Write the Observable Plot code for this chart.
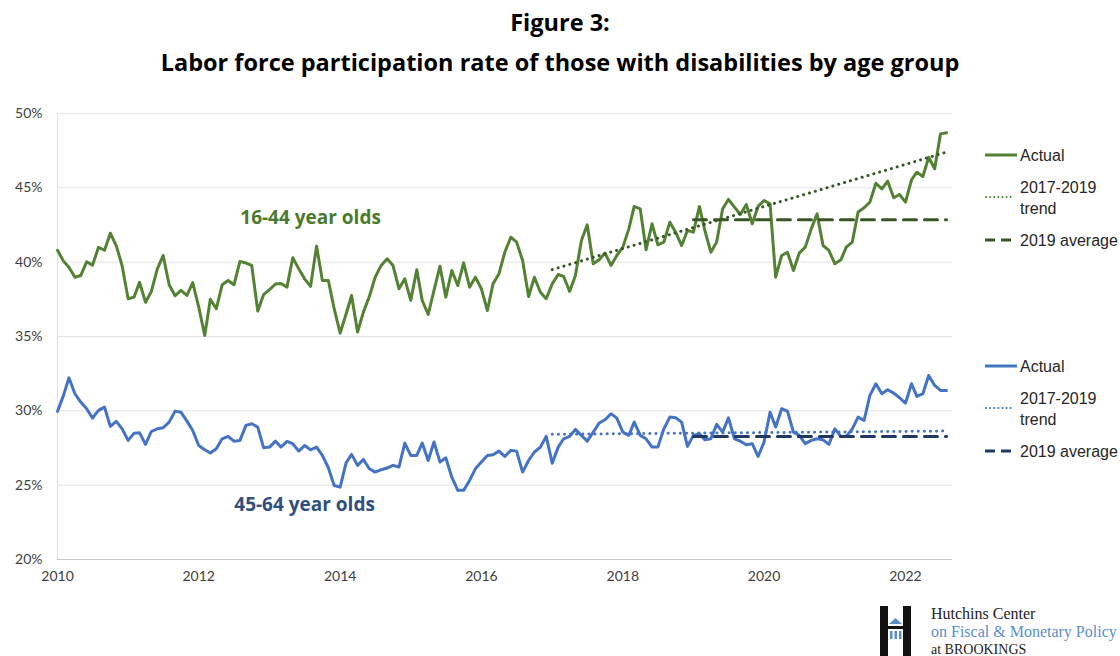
<!DOCTYPE html>
<html><head><meta charset="utf-8">
<script src="https://cdn.jsdelivr.net/npm/d3@7"></script>
<script src="https://cdn.jsdelivr.net/npm/@observablehq/plot@0.6"></script>
<style>
html,body{margin:0;padding:0;background:#fff;}
body{width:1120px;height:656px;position:relative;overflow:hidden;font-family:Lato,"Open Sans",sans-serif;}
#title{position:absolute;left:0;top:2px;width:1120px;text-align:center;font-family:"Open Sans",sans-serif;font-weight:700;font-size:23.5px;line-height:40px;color:#000;}
#chart{position:absolute;left:0;top:90px;}
#overlay{position:absolute;left:0;top:0;}
</style></head>
<body>
<div id="title">Figure 3:<br>Labor force participation rate of those with disabilities by age group</div>
<div id="chart"></div>
<svg id="overlay" width="1120" height="656"></svg>
<script>
// ---- data (monthly, Jan 2010 – Aug 2022), percent ----
const startMonth = "2010-01-01";
const age1644 = [
40.8,40.07,39.66,38.99,39.1,40.03,39.8,41.0,40.8,41.95,
41.1,39.76,37.54,37.65,38.64,37.3,38.03,39.55,40.45,38.48,
37.74,38.1,37.76,38.62,36.98,35.07,37.5,36.87,38.48,38.77,
38.48,40.05,39.94,39.78,36.71,37.81,38.15,38.53,38.57,38.32,
40.3,39.55,38.88,38.37,41.08,38.77,38.77,36.87,35.23,36.53,
37.76,35.3,36.64,
37.69,38.99,39.78,40.23,39.78,38.21,38.88,37.43,39.49,37.43,
36.48,38.10,39.73,37.65,39.44,38.43,39.96,38.32,38.99,38.21,
36.75,38.54,39.22,40.67,41.68,41.35,40.11,37.69,38.99,37.98,
37.54,38.54,39.17,39.04,38.03,39.11,41.46,42.51,39.89,40.16,
40.61,39.78,40.45,41.01,42.24,43.75,43.59,40.83,42.58,41.17,
41.35,42.69,
42.02,41.12,42.13,42.02,43.75,42.13,40.67,41.35,43.59,44.22,
43.70,43.21,43.88,42.58,43.75,44.15,43.92,38.99,40.45,40.67,
39.44,40.61,41.01,42.24,43.25,41.12,40.79,39.89,40.16,41.01,
41.35,43.38,43.66,44.04,45.31,44.93,45.45,44.33,44.55,44.04,
45.54,46.05,45.76,47.06,46.28,48.63,48.70
];
const age4564 = [
29.96,31.04,32.22,31.15,30.59,30.14,29.51,30.03,30.25,28.95,
29.29,28.79,28.01,28.50,28.52,27.74,28.61,28.79,28.86,29.24,
29.98,29.91,29.31,28.68,27.67,27.38,27.16,27.45,28.12,28.28,
27.96,28.01,29.02,29.13,28.91,27.52,27.56,27.96,27.56,27.94,
27.79,27.29,27.67,27.38,27.56,27.00,26.17,24.98,24.87,26.51,
27.07,26.33,26.73,
26.10,25.88,26.04,26.15,26.33,26.22,27.83,27.00,27.00,27.83,
26.66,27.90,26.55,26.84,25.54,24.65,24.65,25.32,26.10,26.55,
27.00,27.05,27.29,26.93,27.34,27.29,25.88,26.66,27.23,27.56,
28.28,26.48,27.56,28.12,28.28,28.75,28.35,27.96,28.57,29.18,
29.40,29.80,29.51,28.57,28.35,29.24,28.35,28.12,27.56,27.56,
28.79,29.58,
29.53,29.24,27.61,28.35,28.46,28.05,28.12,29.09,28.57,29.53,
28.12,27.96,27.72,27.79,26.93,27.90,29.91,28.91,30.14,29.98,
28.57,28.35,27.79,28.01,28.12,28.05,27.74,28.79,28.28,28.28,
28.79,29.58,29.35,31.04,31.82,31.15,31.42,31.19,30.88,30.52,
31.82,30.97,31.15,32.38,31.71,31.37,31.37
];
// 2017-2019 trend lines (start Jan 2017, end Aug 2022)
const trendDates = ["2017-01-01", "2022-08-01"];
const trend1644 = [39.5, 47.4];
const trend4564 = [28.42, 28.64];
// 2019 averages (drawn Jan 2019 – Aug 2022)
const avgDates = ["2019-01-01", "2022-08-01"];
const avg1644 = 42.85;
const avg4564 = 28.28;
const yTicks = [20, 25, 30, 35, 40, 45, 50];
const xTickYears = [2010, 2012, 2014, 2016, 2018, 2020, 2022];
const groupLabels = ["16-44 year olds", "45-64 year olds"];
const groupLabelDates = ["2013-08-01", "2013-07-01"];
const groupLabelValues = [43.0, 23.7];
const legendLabels = ["Actual", "2017-2019", "trend", "2019 average"];

// ---- build tables ----
const start = new Date(startMonth);
const dates = d3.utcMonth.range(start, d3.utcMonth.offset(start, age1644.length));
const g = age1644.map((v, i) => ({date: dates[i], value: v}));
const b = age4564.map((v, i) => ({date: dates[i], value: v}));
const tG = trendDates.map((d, i) => ({date: new Date(d), value: trend1644[i]}));
const tB = trendDates.map((d, i) => ({date: new Date(d), value: trend4564[i]}));
const aG = avgDates.map(d => ({date: new Date(d), value: avg1644}));
const aB = avgDates.map(d => ({date: new Date(d), value: avg4564}));
const labels = groupLabels.map((t, i) => ({text: t, date: new Date(groupLabelDates[i]), value: groupLabelValues[i]}));

const GREEN = "#548235", DKGREEN = "#375623", BLUE = "#4472c4", NAVY = "#203864";
const xt = xTickYears.map(y => new Date(Date.UTC(y, 0, 1)));

const chart = Plot.plot({
  width: 1120, height: 520,
  marginLeft: 57, marginRight: 168, marginTop: 23, marginBottom: 51,
  style: {fontFamily: "Lato, sans-serif", fontSize: "14px", color: "#595959", background: "transparent", overflow: "visible"},
  x: {type: "utc", domain: [start, new Date("2022-09-01")], label: null},
  y: {domain: [20, 50], label: null},
  marks: [
    Plot.gridY(yTicks.slice(1), {stroke: "#e3e3e3", strokeOpacity: 1}),
    Plot.ruleY([20], {stroke: "#c9c9c9"}),
    Plot.ruleX([start], {stroke: "#e0e0e0"}),
    Plot.axisX({ticks: xt, tickFormat: d => String(d.getUTCFullYear()), tickSize: 0, tickPadding: 12, fill: "#404040", label: null}),
    Plot.axisY({ticks: yTicks, tickFormat: d => d + "%", tickSize: 0, tickPadding: 15, fill: "#404040", label: null}),
    Plot.line(g, {x: "date", y: "value", stroke: GREEN, strokeWidth: 3}),
    Plot.line(b, {x: "date", y: "value", stroke: BLUE, strokeWidth: 3}),
    Plot.line(tG, {x: "date", y: "value", stroke: DKGREEN, strokeWidth: 3, strokeDasharray: "0.1,6", strokeLinecap: "round"}),
    Plot.line(tB, {x: "date", y: "value", stroke: BLUE, strokeWidth: 3, strokeDasharray: "0.1,6", strokeLinecap: "round"}),
    Plot.line(aG, {x: "date", y: "value", stroke: DKGREEN, strokeWidth: 3, strokeDasharray: "13,8"}),
    Plot.line(aB, {x: "date", y: "value", stroke: NAVY, strokeWidth: 3, strokeDasharray: "13,8"}),
    Plot.text(labels, {x: "date", y: "value", text: "text", fill: (d, i) => i === 0 ? "#4a7a2c" : "#2f4f80",
      fontSize: 19, fontWeight: 700, fontFamily: "'Open Sans', sans-serif"})
  ]
});
document.getElementById("chart").appendChild(chart);

// ---- legends & logo overlay ----
const ov = d3.select("#overlay");
function legend(y0, actualColor, trendColor, avgColor) {
  const gg = ov.append("g").attr("font-family", "'Liberation Sans', Arial, sans-serif").attr("font-size", 16).attr("fill", "#262626");
  gg.append("line").attr("x1", 985).attr("x2", 1017).attr("y1", y0).attr("y2", y0).attr("stroke", actualColor).attr("stroke-width", 3);
  gg.append("text").attr("x", 1020).attr("y", y0).attr("dy", "0.35em").text(legendLabels[0]);
  gg.append("line").attr("x1", 986).attr("x2", 1014).attr("y1", y0 + 42).attr("y2", y0 + 42).attr("stroke", trendColor).attr("stroke-width", 2)
    .attr("stroke-dasharray", "0.1,4").attr("stroke-linecap", "round");
  gg.append("text").attr("x", 1020).attr("y", y0 + 32).attr("dy", "0.35em").text(legendLabels[1]);
  gg.append("text").attr("x", 1020).attr("y", y0 + 53).attr("dy", "0.35em").text(legendLabels[2]);
  gg.append("line").attr("x1", 985).attr("x2", 1015).attr("y1", y0 + 85).attr("y2", y0 + 85).attr("stroke", avgColor).attr("stroke-width", 3)
    .attr("stroke-dasharray", "10,6");
  gg.append("text").attr("x", 1020).attr("y", y0 + 85).attr("dy", "0.35em").text(legendLabels[3]);
}
legend(155, GREEN, GREEN, DKGREEN);
legend(366, BLUE, BLUE, NAVY);

// logo
const lg = ov.append("g");
lg.append("rect").attr("x", 880).attr("y", 606).attr("width", 8).attr("height", 50).attr("fill", "#111");
lg.append("rect").attr("x", 903).attr("y", 606).attr("width", 8).attr("height", 50).attr("fill", "#111");
lg.append("path").attr("d", "M889,624 L895.5,618 L902,624 Z").attr("fill", "#5b8ec9");
lg.append("rect").attr("x", 888).attr("y", 626).attr("width", 15).attr("height", 3).attr("fill", "#111");
[890, 894.5, 899].forEach(x => lg.append("rect").attr("x", x).attr("y", 631).attr("width", 2.5).attr("height", 8).attr("fill", "#5b8ec9"));
const lt = lg.append("g").attr("font-family", "'Liberation Serif', 'DejaVu Serif', serif").attr("font-size", 16);
lt.append("text").attr("x", 931).attr("y", 619).attr("fill", "#222").text("Hutchins Center");
lt.append("text").attr("x", 931).attr("y", 637).attr("fill", "#5b8ec9").text("on Fiscal & Monetary Policy");
lt.append("text").attr("x", 931).attr("y", 654).attr("fill", "#222").attr("font-size", 14).text("at BROOKINGS");
</script>
</body></html>
